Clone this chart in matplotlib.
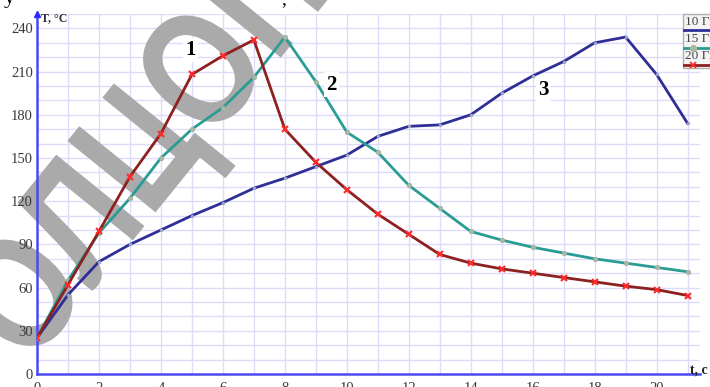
import numpy as np
import matplotlib
matplotlib.use("Agg")
import matplotlib.pyplot as plt
from matplotlib.lines import Line2D
from matplotlib.textpath import TextPath
from matplotlib.patches import PathPatch
from matplotlib.font_manager import FontProperties
from matplotlib.transforms import Affine2D, IdentityTransform

# Time points, s
t = list(range(22))

# Temperature, °C, for three frequencies
temp_10 = [25, 55, 78, 90, 100, 110, 119, 129, 136, 144, 152, 165, 172, 173,
           180, 195, 207, 217, 230, 234, 208, 174]
temp_15 = [25, 65, 98, 122, 150, 170, 185, 206, 234, 203, 168, 154, 131, 115,
           99, 93, 88, 84, 80, 77, 74, 71]
temp_20 = [25, 62, 99, 137, 167, 208, 221, 232, 170, 147, 128, 111, 97, 83,
           77, 73, 70, 67, 64, 61, 58.6, 54.5]

legend_labels = ["10 Гц", "15 Гц", "20 Гц"]
curve_numbers = ["1", "2", "3"]

W, H = 710, 387
fig = plt.figure(figsize=(W / 100, H / 100), dpi=100)
fig.patch.set_facecolor("white")

ax_l, ax_r, ax_b, ax_t = 37, 700, 374, 14
ax = fig.add_axes([ax_l / W, 1 - ax_b / H, (ax_r - ax_l) / W, (ax_b - ax_t) / H])
ax.set_xlim(0, 21.4)
ax.set_ylim(0, 250)
ax.set_axisbelow(False)

# grid
grid_c = "#dcdcfa"
for xv in np.arange(0, 22, 1):
    ax.axvline(xv, color=grid_c, lw=1.0, zorder=0)
for yv in np.arange(10, 251, 10):
    ax.axhline(yv, color=grid_c, lw=1.0, zorder=0)

navy = "#2e2e96"
teal = "#2a9c94"
dred = "#8e2020"

ax.plot(t, temp_10, color=navy, lw=2.0, marker="o", ms=2.5,
        mfc="#9aa6c8", mec="none", zorder=3)
ax.plot(t, temp_15, color=teal, lw=2.0, marker="o", ms=3.2,
        mfc="#a9b8a0", mec="#a0b0a0", mew=0.5, zorder=4)
ax.plot(t, temp_20, color=dred, lw=2.0, marker="x", ms=5,
        mec="#ff2a2a", mew=1.5, zorder=5)

# axes styling
for s in ["top", "right"]:
    ax.spines[s].set_visible(False)
for s in ["left", "bottom"]:
    ax.spines[s].set_color("#4a4af0")
    ax.spines[s].set_linewidth(1.8)
ax.set_xticks(np.arange(0, 21, 2))
ax.set_yticks(np.arange(0, 241, 30))
ax.tick_params(length=0, labelsize=10.5, labelcolor="#3a3a3a", pad=3)
for lab in ax.get_xticklabels() + ax.get_yticklabels():
    lab.set_fontfamily("Liberation Serif")
ax.tick_params(axis="x", pad=6)

# arrow at top of the y axis
ax.plot([0], [250], marker="^", color="#2a2aff", ms=5, clip_on=False, zorder=6)

serif = "Liberation Serif"
fig.text(41 / W, 1 - 18 / H, "T, °C", fontsize=8.5, fontweight="bold",
         family=serif, color="#333333", va="center", ha="left")
fig.text(690 / W, 1 - 370 / H, "t, с", fontsize=10, fontweight="bold",
         family=serif, color="#222222", va="center", ha="left")

# curve numbers
for num, (xv, yv) in zip(curve_numbers, [(4.95, 225), (9.5, 201), (16.35, 197)]):
    ax.text(xv, yv, num, fontsize=15, fontweight="bold", family=serif,
            color="black", ha="center", va="center", zorder=7,
            bbox=dict(facecolor="white", edgecolor="none", pad=1.5))

# legend box (partially outside the right edge)
lx0, ly0, lx1, ly1 = 683, 14, 720, 68
fig.patches.append(plt.Rectangle((lx0 / W, 1 - ly1 / H), (lx1 - lx0) / W,
                                 (ly1 - ly0) / H, transform=fig.transFigure,
                                 facecolor="#f4f4f4", edgecolor="#b0b0b0",
                                 lw=1.0, zorder=8))
styles = [(navy, None, None), (teal, "o", "#a9b8a0"), (dred, "x", "#ff2a2a")]
for i, (lab, (c, m, mc)) in enumerate(zip(legend_labels, styles)):
    ty = 21.5 + i * 17.5
    fig.text(685 / W, 1 - ty / H, lab, fontsize=9.5, family=serif,
             color="#444444", va="center", ha="left", zorder=9)
    ly = ty + 8.5
    fig.lines.append(Line2D([684 / W, 712 / W], [1 - ly / H, 1 - ly / H],
                            transform=fig.transFigure, color=c, lw=2.0,
                            zorder=9))
    if m:
        fig.lines.append(Line2D([693 / W], [1 - ly / H], transform=fig.transFigure,
                                marker=m, ms=4, color=mc, mec=mc, mew=1.2,
                                lw=0, zorder=10))

# fragments of the caption line above
fig.text(4 / W, 1 + 11 / H, "у", fontsize=16, family=serif, color="black",
         va="top", ha="left")
fig.text(281 / W, 1 + 9 / H, ",", fontsize=14, family=serif, color="black",
         va="top", ha="left")

# watermark: condensed bold lettering, rotated, under the curves
wm_path = TextPath((0, 0), "ОЛЦОП", size=165,
                   prop=FontProperties(family="Liberation Sans", weight="bold"))
ext = wm_path.get_extents()
cx, cy = (ext.x0 + ext.x1) / 2, (ext.y0 + ext.y1) / 2
wm_tr = (Affine2D().translate(-cx, -cy).scale(0.8, 1.0).rotate_deg(51)
         .translate(149, H - 155))
wm = PathPatch(wm_tr.transform_path(wm_path), facecolor="#aaaaaa",
               edgecolor="none", transform=IdentityTransform(),
               zorder=2, clip_on=False)
ax.add_artist(wm)

fig.savefig("out.png", dpi=100)
